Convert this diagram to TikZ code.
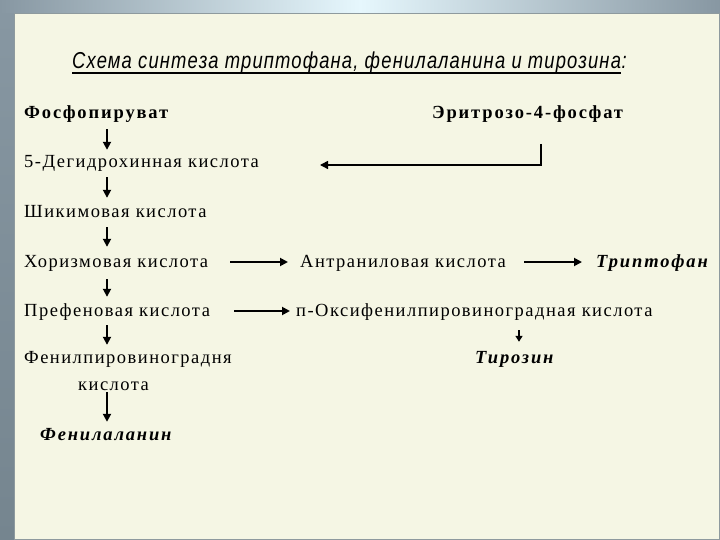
\documentclass[tikz,border=0pt]{standalone}
\usepackage{fontspec}
\setmainfont{Liberation Serif}
\newfontfamily\regfont[LetterSpace=8]{Liberation Serif}
\newfontfamily\boldfont[LetterSpace=10]{Liberation Serif}
\newfontfamily\titlefont[FakeStretch=0.8,LetterSpace=5]{Liberation Sans}
\usetikzlibrary{arrows.meta}
\definecolor{panel}{HTML}{F5F6E4}
\definecolor{frame}{HTML}{8797A2}
\definecolor{frameleft}{HTML}{75858F}
\definecolor{framelight}{HTML}{E6F7FD}
\definecolor{frameline}{HTML}{8E9A9E}
\begin{document}
\begin{tikzpicture}[x=1pt,y=-1pt,
  txt/.style={anchor=base west, inner sep=0pt, text height=13pt, text depth=4pt,
    font=\regfont\fontsize{18.5}{20}\selectfont},
  boldtxt/.style={txt, font=\boldfont\fontsize{18.5}{20}\selectfont\bfseries},
  bitxt/.style={txt, font=\boldfont\fontsize{18.5}{20}\selectfont\bfseries\itshape},
  titletxt/.style={anchor=base west, inner sep=0pt, font=\titlefont\itshape\fontsize{23}{25}\selectfont},
  arr/.style={line width=1.8pt, -{Triangle[length=8pt,width=8pt]}},
  smallarr/.style={line width=1.5pt, -{Triangle[length=6pt,width=7pt]}},
]
\useasboundingbox (0,0) rectangle (720,540);
% frame
\fill[frame] (0,0) rectangle (720,540);
\shade[left color=frame, right color=frame, middle color=framelight] (0,0) rectangle (720,14);
\shade[top color=frame, bottom color=frameleft] (0,14) rectangle (14,540);
\filldraw[fill=panel, draw=frameline, line width=1pt] (14,14) rectangle (719,539);

% title
\node[titletxt] (title) at (72,69) {Схема синтеза триптофана, фенилаланина и тирозина};
\node[titletxt] (colon) at (title.base east) {:};
\draw[line width=2pt] ([yshift=-4pt]title.base west) -- ([yshift=-4pt]title.base east);

% texts
\node[boldtxt] (fp)  at (24,119) {Фосфопируват};
\node[boldtxt] (ery) at (432,119) {Эритрозо-4-фосфат};
\node[txt] (dhq) at (24,168) {5-Дегидрохинная кислота};
\node[txt] (shk) at (24,218) {Шикимовая кислота};
\node[txt] (hor) at (24,267) {Хоризмовая кислота};
\node[txt] (ant) at (300,267) {Антраниловая кислота};
\node[bitxt] (trp) at (596,267) {Триптофан};
\node[txt] (pre) at (24,316) {Префеновая кислота};
\node[txt] (oxy) at (296,316) {п-Оксифенилпировиноградная кислота};
\node[bitxt] (tyr) at (475,363) {Тирозин};
\node[txt] (php) at (24,363) {Фенилпировиноградня};
\node[txt] (kis) at (78,390) {кислота};
\node[bitxt] (phe) at (40,440) {Фенилаланин};

% helper coordinates
\coordinate (ax) at (107,0);
\coordinate (tx) at (519,0);
\coordinate (e1) at (541,144);
\coordinate (e2) at (320,165);

% vertical arrows
\draw[arr, shorten <=6pt, shorten >=5pt] (fp.south -| ax) -- (dhq.north -| ax);
\draw[arr, shorten <=5pt, shorten >=7pt] (dhq.south -| ax) -- (shk.north -| ax);
\draw[arr, shorten <=5pt, shorten >=7pt] (shk.south -| ax) -- (hor.north -| ax);
\draw[arr, shorten <=8pt, shorten >=6pt] (hor.south -| ax) -- (pre.north -| ax);
\draw[arr, shorten <=5pt, shorten >=5pt] (pre.south -| ax) -- (php.north -| ax);
\draw[arr, line width=2.2pt, shorten <=2pt, shorten >=5pt] (kis.base -| ax) -- (phe.north -| ax);
\draw[smallarr, shorten <=10pt, shorten >=8pt] (oxy.south -| tx) -- (tyr.north -| tx);

% horizontal arrows
\draw[arr] ([yshift=5pt,xshift=22pt]hor.base east) -- ([yshift=5pt,xshift=-12pt]ant.base west);
\draw[arr] ([yshift=5pt,xshift=18pt]ant.base east) -- ([yshift=5pt,xshift=-14pt]trp.base west);
\draw[arr] ([yshift=5pt,xshift=24pt]pre.base east) -- ([yshift=5pt,xshift=-6pt]oxy.base west);

% erythrose arrow
\draw[arr, line width=1.5pt] (e1) |- (e2);
\end{tikzpicture}
\end{document}
